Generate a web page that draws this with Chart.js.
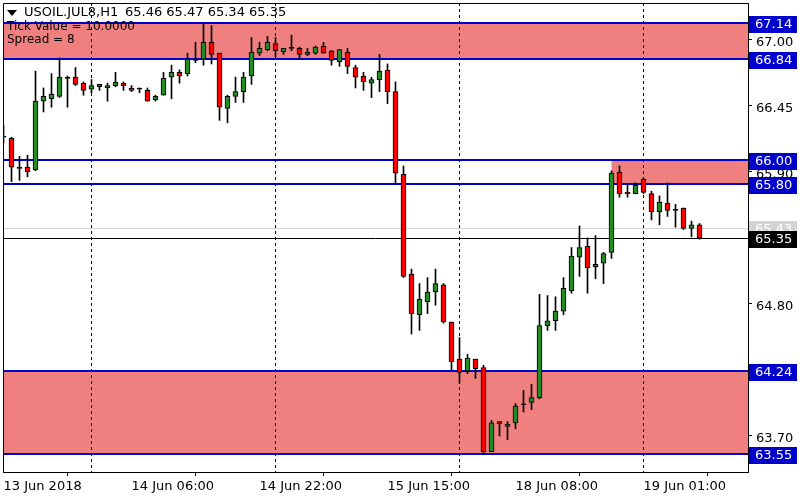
<!DOCTYPE html>
<html>
<head>
<meta charset="utf-8">
<script src="https://cdn.jsdelivr.net/npm/chart.js@4.4.1/dist/chart.umd.min.js"></script>
<style>
  html, body { margin: 0; padding: 0; background: #fff; }
</style>
</head>
<body>
<canvas id="c" width="800" height="500"></canvas>
<script>
// USOIL.JUL8 H1 bars, oldest first
const opens = [
  66.19, 66.18, 65.93, 65.94, 65.92, 66.49, 66.51, 66.53, 66.68, 66.69,
  66.64, 66.59, 66.63, 66.60, 66.62, 66.64, 66.60, 66.59, 66.58, 66.50,
  66.54, 66.69, 66.73, 66.72, 66.83, 66.84, 66.98, 66.89, 66.43, 66.53,
  66.57, 66.70, 66.89, 66.92, 66.97, 66.90, 66.93, 66.93, 66.88, 66.89,
  66.95, 66.91, 66.82, 66.90, 66.77, 66.70, 66.64, 66.67, 66.75, 66.57,
  65.88, 65.05, 64.71, 64.82, 64.90, 64.96, 64.65, 64.34, 64.24, 64.34,
  64.27, 63.57, 63.82, 63.78, 63.81, 63.96, 63.98, 64.02, 64.62, 64.66,
  64.74, 64.91, 65.19, 65.28, 65.11, 65.14, 65.23, 65.90, 65.73, 65.72,
  65.84, 65.72, 65.57, 65.64, 65.58, 65.60, 65.43, 65.46
];
const highs = [
  66.29, 66.19, 66.03, 66.04, 66.74, 66.60, 66.72, 66.85, 66.70, 66.77,
  66.65, 66.67, 66.63, 66.64, 66.73, 66.65, 66.62, 66.60, 66.60, 66.54,
  66.73, 66.79, 66.75, 66.89, 66.98, 67.13, 67.12, 66.89, 66.54, 66.69,
  66.73, 67.02, 66.98, 67.03, 67.02, 66.93, 67.04, 66.94, 66.93, 66.95,
  66.98, 66.91, 66.92, 66.93, 66.79, 66.73, 66.69, 66.88, 66.80, 66.65,
  65.95, 65.09, 64.97, 65.02, 65.09, 64.97, 64.65, 64.52, 64.38, 64.34,
  64.29, 63.83, 63.82, 63.82, 63.97, 64.08, 64.13, 64.88, 64.87, 64.86,
  65.02, 65.27, 65.45, 65.35, 65.37, 65.23, 65.91, 65.95, 65.80, 65.81,
  65.85, 65.74, 65.70, 65.81, 65.63, 65.60, 65.49, 65.47
];
const lows = [
  66.14, 65.82, 65.83, 65.86, 65.91, 66.40, 66.44, 66.52, 66.44, 66.62,
  66.54, 66.56, 66.58, 66.49, 66.61, 66.58, 66.57, 66.56, 66.49, 66.49,
  66.54, 66.51, 66.64, 66.70, 66.81, 66.79, 66.80, 66.33, 66.31, 66.48,
  66.48, 66.63, 66.87, 66.91, 66.86, 66.88, 66.91, 66.84, 66.87, 66.88,
  66.89, 66.79, 66.78, 66.72, 66.60, 66.58, 66.52, 66.57, 66.47, 65.81,
  65.02, 64.55, 64.58, 64.72, 64.79, 64.64, 64.25, 64.14, 64.22, 64.18,
  63.55, 63.57, 63.70, 63.67, 63.76, 63.90, 63.92, 64.01, 64.58, 64.58,
  64.71, 64.89, 65.03, 64.89, 65.01, 64.97, 65.18, 65.69, 65.69, 65.72,
  65.72, 65.50, 65.46, 65.53, 65.44, 65.42, 65.36, 65.34
];
const closes = [
  66.19, 65.94, 65.93, 65.90, 66.49, 66.53, 66.55, 66.69, 66.68, 66.63,
  66.58, 66.62, 66.61, 66.62, 66.65, 66.62, 66.58, 66.59, 66.49, 66.53,
  66.68, 66.73, 66.70, 66.84, 66.83, 66.98, 66.88, 66.44, 66.53, 66.57,
  66.69, 66.90, 66.93, 66.98, 66.91, 66.93, 66.93, 66.88, 66.90, 66.94,
  66.89, 66.83, 66.92, 66.78, 66.69, 66.65, 66.67, 66.74, 66.57, 65.89,
  65.03, 64.72, 64.84, 64.90, 64.97, 64.65, 64.32, 64.23, 64.35, 64.26,
  63.57, 63.81, 63.80, 63.80, 63.95, 63.96, 64.02, 64.62, 64.66, 64.74,
  64.93, 65.20, 65.27, 65.10, 65.13, 65.22, 65.89, 65.72, 65.72, 65.79,
  65.73, 65.57, 65.65, 65.58, 65.58, 65.43, 65.46, 65.35
];

// time axis: bar index -> label
const xTickIdx = [0, 16, 32, 48, 64, 80];
const xTickText = ["13 Jun 2018", "14 Jun 06:00", "14 Jun 22:00", "15 Jun 15:00", "18 Jun 08:00", "19 Jun 01:00"];
const yTicks = [63.70, 64.25, 64.80, 65.35, 65.90, 66.45, 67.00];

// day separators (first bar of each day)
const separatorBars = [11, 34, 57, 80];

// supply / demand zones
const zoneLow = [66.84, 65.80, 63.55];
const zoneHigh = [67.14, 66.00, 64.24];
const zoneStartBar = [null, 76, null];

const bidPrice = 65.35;
const askPrice = 65.43;

const symbolText = "USOIL.JUL8,H1";
const infoLines = ["Tick Value = 10.0000", "Spread = 8"];

const n = opens.length;
const font = "DejaVu Sans";

const bodyColors = opens.map((o, i) => {
  if (closes[i] > o) return "#228b22";
  if (closes[i] < o) return "#ff0000";
  return "#000000";
});

// zones, lines and labels drawn around the candles
const overlay = {
  id: "overlay",
  beforeDatasetsDraw(chart) {
    const { ctx, chartArea: a, scales } = chart;
    const x = scales.x, y = scales.y;
    ctx.save();
    ctx.beginPath();
    ctx.rect(a.left, a.top, a.right - a.left, a.bottom - a.top);
    ctx.clip();

    ctx.fillStyle = "#f08080";
    zoneLow.forEach((lo, i) => {
      const x0 = zoneStartBar[i] == null ? a.left : x.getPixelForValue(zoneStartBar[i]);
      const yt = y.getPixelForValue(zoneHigh[i]);
      const yb = y.getPixelForValue(lo);
      ctx.fillRect(x0, yt, a.right - x0, yb - yt);
    });

    ctx.strokeStyle = "#000";
    ctx.lineWidth = 1;
    ctx.setLineDash([3, 3]);
    separatorBars.forEach((b) => {
      const px = Math.round(x.getPixelForValue(b) - 0.5) + 0.5;
      ctx.beginPath();
      ctx.moveTo(px, a.top);
      ctx.lineTo(px, a.bottom);
      ctx.stroke();
    });
    ctx.setLineDash([]);

    const hline = (p, color, w) => {
      const py = Math.round(y.getPixelForValue(p)) + (w % 2 ? 0.5 : 0);
      ctx.strokeStyle = color;
      ctx.lineWidth = w;
      ctx.beginPath();
      ctx.moveTo(a.left, py);
      ctx.lineTo(a.right, py);
      ctx.stroke();
    };
    hline(askPrice, "#d3d3d3", 1);
    hline(bidPrice, "#000000", 1);
    zoneLow.concat(zoneHigh).forEach((p) => hline(p, "#0000cc", 2));
    ctx.restore();
  },
  afterDraw(chart) {
    const { ctx, chartArea: a, scales } = chart;
    const y = scales.y;
    ctx.save();

    // frame
    ctx.strokeStyle = "#000";
    ctx.lineWidth = 1;
    ctx.beginPath();
    ctx.moveTo(a.left + 0.5, a.bottom);
    ctx.lineTo(a.left + 0.5, a.top + 0.5);
    ctx.lineTo(a.right, a.top + 0.5);
    ctx.stroke();

    // header
    ctx.fillStyle = "#000";
    ctx.beginPath();
    ctx.moveTo(7, 10);
    ctx.lineTo(17, 10);
    ctx.lineTo(12, 16);
    ctx.closePath();
    ctx.fill();
    ctx.font = "13px '" + font + "'";
    ctx.textBaseline = "middle";
    ctx.textAlign = "left";
    const ohlc = [opens[n - 1], highs[n - 1], lows[n - 1], closes[n - 1]].map((v) => v.toFixed(2)).join(" ");
    ctx.fillText(symbolText, 24, 13);
    ctx.fillText(ohlc, 125, 13);
    ctx.font = "12px '" + font + "'";
    ctx.fillText(infoLines[0], 7, 27);
    ctx.fillText(infoLines[1], 7, 40);

    // price labels on the right axis
    const tag = (p, bg, fg) => {
      const py = y.getPixelForValue(p);
      ctx.fillStyle = bg;
      ctx.fillRect(749, Math.round(py) - 7, 48, 17);
      ctx.fillStyle = fg;
      ctx.font = "13px '" + font + "'";
      ctx.textBaseline = "middle";
      ctx.fillText(p.toFixed(2), 755, Math.round(py) + 1.5);
    };
    tag(askPrice, "#d3d3d3", "#ffffff");
    tag(bidPrice, "#000000", "#ffffff");
    zoneLow.concat(zoneHigh).forEach((p) => tag(p, "#0000cc", "#ffffff"));
    ctx.restore();
  }
};

new Chart(document.getElementById("c"), {
  type: "bar",
  data: {
    datasets: [
      {
        label: "wick",
        data: highs.map((h, i) => ({ x: i, y: [lows[i], h] })),
        backgroundColor: "#000000",
        barThickness: 1,
        grouped: false,
        order: 2
      },
      {
        label: "body",
        data: opens.map((o, i) => ({ x: i, y: [o, closes[i]] })),
        backgroundColor: bodyColors,
        borderColor: "#000000",
        borderWidth: 1,
        borderSkipped: false,
        barThickness: 5,
        minBarLength: 1,
        grouped: false,
        order: 1
      }
    ]
  },
  options: {
    responsive: false,
    animation: false,
    layout: { padding: { left: 3, top: 3, right: 0, bottom: 0 } },
    plugins: { legend: { display: false }, tooltip: { enabled: false } },
    scales: {
      x: {
        type: "linear",
        min: -0.0625,
        max: 93.0625,
        offset: false,
        grid: { drawOnChartArea: false, drawTicks: true, tickLength: 4, color: "#000" },
        border: { display: true, color: "#000" },
        afterBuildTicks: (axis) => { axis.ticks = xTickIdx.map((v) => ({ value: v })); },
        afterFit: (axis) => {
          axis.height = 28;
          axis.paddingLeft = 0;
          axis.paddingRight = 0;
        },
        ticks: {
          align: "start",
          maxRotation: 0,
          autoSkip: false,
          padding: 3,
          color: "#000",
          font: { family: font, size: 13 },
          callback: (v) => xTickText[xTickIdx.indexOf(v)]
        }
      },
      y: {
        position: "right",
        min: 63.40,
        max: 67.308,
        grid: { drawOnChartArea: false, drawTicks: true, tickLength: 4, color: "#000" },
        border: { display: true, color: "#000" },
        afterBuildTicks: (axis) => { axis.ticks = yTicks.map((v) => ({ value: v })); },
        afterFit: (axis) => {
          axis.width = 52;
          axis.paddingTop = 0;
          axis.paddingBottom = 0;
        },
        ticks: {
          padding: 4,
          labelOffset: 3,
          color: "#000",
          font: { family: font, size: 13 },
          callback: (v) => Number(v).toFixed(2)
        }
      }
    }
  },
  plugins: [overlay]
});
</script>
</body>
</html>
